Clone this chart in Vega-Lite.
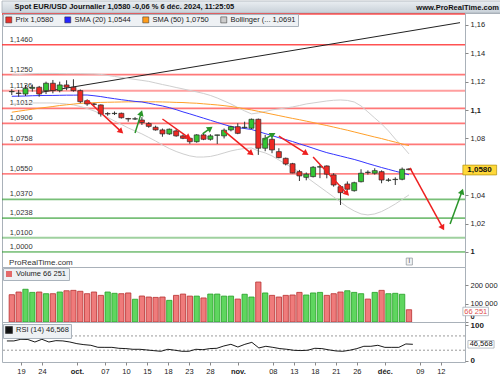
{
"$schema": "https://vega.github.io/schema/vega-lite/v6.json",
"padding": 0,
"autosize": {"type": "pad"},
"background": "#ffffff",
"spacing": 0,
"bounds": "flush",
"title": {"text": "www.ProRealTime.com", "anchor": "end", "frame": "bounds", "orient": "top", "offset": -11, "fontSize": 7.5, "fontWeight": "bold", "color": "#111111", "dx": -4},
"config": {
  "font": "Liberation Sans",
  "locale": {"number": {"decimal": ",", "thousands": " ", "grouping": [3], "currency": ["", " €"]}},
  "view": {"stroke": "#a9b1b9", "strokeWidth": 1},
  "axis": {"labelFont": "Liberation Sans", "labelFontSize": 7.5, "labelColor": "#222222", "tickColor": "#888888", "tickSize": 3, "domain": false, "grid": false, "labelPadding": 2, "labelOverlap": false, "tickCount": 100},
  "legend": {"labelFont": "Liberation Sans", "labelFontSize": 7.5, "labelColor": "#222222"},
  "title": {"font": "Liberation Sans"}
},
"resolve": {"scale": {"x": "independent", "y": "independent", "color": "independent", "fill": "independent", "stroke": "independent"}, "legend": {"color": "independent", "fill": "independent"}},
"datasets": {
"bougies": [
{"t":0,"date":"2024-09-17","ouverture":1.1129,"plus_haut":1.1147,"plus_bas":1.1106,"cloture":1.1131,"sens":"hausse"},
{"t":1,"date":"2024-09-18","ouverture":1.1120,"plus_haut":1.1142,"plus_bas":1.1094,"cloture":1.1117,"sens":"baisse"},
{"t":2,"date":"2024-09-19","ouverture":1.1113,"plus_haut":1.1177,"plus_bas":1.1099,"cloture":1.1153,"sens":"hausse"},
{"t":3,"date":"2024-09-20","ouverture":1.1153,"plus_haut":1.1180,"plus_bas":1.1130,"cloture":1.1160,"sens":"hausse"},
{"t":4,"date":"2024-09-23","ouverture":1.1161,"plus_haut":1.1170,"plus_bas":1.1094,"cloture":1.1113,"sens":"baisse"},
{"t":5,"date":"2024-09-24","ouverture":1.1137,"plus_haut":1.1200,"plus_bas":1.1113,"cloture":1.1189,"sens":"hausse"},
{"t":6,"date":"2024-09-25","ouverture":1.1189,"plus_haut":1.1212,"plus_bas":1.1118,"cloture":1.1137,"sens":"baisse"},
{"t":7,"date":"2024-09-26","ouverture":1.1137,"plus_haut":1.1200,"plus_bas":1.1125,"cloture":1.1177,"sens":"hausse"},
{"t":8,"date":"2024-09-27","ouverture":1.1177,"plus_haut":1.1210,"plus_bas":1.1140,"cloture":1.1161,"sens":"baisse"},
{"t":9,"date":"2024-09-30","ouverture":1.1161,"plus_haut":1.1217,"plus_bas":1.1130,"cloture":1.1137,"sens":"baisse"},
{"t":10,"date":"2024-10-01","ouverture":1.1137,"plus_haut":1.1145,"plus_bas":1.1048,"cloture":1.1059,"sens":"baisse"},
{"t":11,"date":"2024-10-02","ouverture":1.1066,"plus_haut":1.1075,"plus_bas":1.1030,"cloture":1.1043,"sens":"baisse"},
{"t":12,"date":"2024-10-03","ouverture":1.1043,"plus_haut":1.1050,"plus_bas":1.1030,"cloture":1.1040,"sens":"baisse"},
{"t":13,"date":"2024-10-04","ouverture":1.1036,"plus_haut":1.1040,"plus_bas":1.0954,"cloture":1.0973,"sens":"baisse"},
{"t":14,"date":"2024-10-07","ouverture":1.0975,"plus_haut":1.0985,"plus_bas":1.0960,"cloture":1.0973,"sens":"baisse"},
{"t":15,"date":"2024-10-08","ouverture":1.0975,"plus_haut":1.0990,"plus_bas":1.0965,"cloture":1.0977,"sens":"hausse"},
{"t":16,"date":"2024-10-09","ouverture":1.0977,"plus_haut":1.0982,"plus_bas":1.0940,"cloture":1.0946,"sens":"baisse"},
{"t":17,"date":"2024-10-10","ouverture":1.0940,"plus_haut":1.0945,"plus_bas":1.0918,"cloture":1.0937,"sens":"baisse"},
{"t":18,"date":"2024-10-11","ouverture":1.0937,"plus_haut":1.0950,"plus_bas":1.0930,"cloture":1.0938,"sens":"hausse"},
{"t":19,"date":"2024-10-14","ouverture":1.0930,"plus_haut":1.0950,"plus_bas":1.0895,"cloture":1.0912,"sens":"baisse"},
{"t":20,"date":"2024-10-15","ouverture":1.0905,"plus_haut":1.0915,"plus_bas":1.0875,"cloture":1.0885,"sens":"baisse"},
{"t":21,"date":"2024-10-16","ouverture":1.0879,"plus_haut":1.0890,"plus_bas":1.0855,"cloture":1.0860,"sens":"baisse"},
{"t":22,"date":"2024-10-17","ouverture":1.0860,"plus_haut":1.0870,"plus_bas":1.0812,"cloture":1.0832,"sens":"baisse"},
{"t":23,"date":"2024-10-18","ouverture":1.0832,"plus_haut":1.0870,"plus_bas":1.0825,"cloture":1.0865,"sens":"hausse"},
{"t":24,"date":"2024-10-21","ouverture":1.0853,"plus_haut":1.0865,"plus_bas":1.0812,"cloture":1.0818,"sens":"baisse"},
{"t":25,"date":"2024-10-22","ouverture":1.0818,"plus_haut":1.0828,"plus_bas":1.0795,"cloture":1.0801,"sens":"baisse"},
{"t":26,"date":"2024-10-23","ouverture":1.0801,"plus_haut":1.0805,"plus_bas":1.0762,"cloture":1.0777,"sens":"baisse"},
{"t":27,"date":"2024-10-24","ouverture":1.0777,"plus_haut":1.0830,"plus_bas":1.0770,"cloture":1.0825,"sens":"hausse"},
{"t":28,"date":"2024-10-25","ouverture":1.0825,"plus_haut":1.0840,"plus_bas":1.0788,"cloture":1.0794,"sens":"baisse"},
{"t":29,"date":"2024-10-28","ouverture":1.0794,"plus_haut":1.0830,"plus_bas":1.0785,"cloture":1.0818,"sens":"hausse"},
{"t":30,"date":"2024-10-29","ouverture":1.0822,"plus_haut":1.0826,"plus_bas":1.0761,"cloture":1.0825,"sens":"hausse"},
{"t":31,"date":"2024-10-30","ouverture":1.0818,"plus_haut":1.0870,"plus_bas":1.0800,"cloture":1.0858,"sens":"hausse"},
{"t":32,"date":"2024-10-31","ouverture":1.0860,"plus_haut":1.0890,"plus_bas":1.0850,"cloture":1.0883,"sens":"hausse"},
{"t":33,"date":"2024-11-01","ouverture":1.0883,"plus_haut":1.0907,"plus_bas":1.0830,"cloture":1.0836,"sens":"baisse"},
{"t":34,"date":"2024-11-04","ouverture":1.0876,"plus_haut":1.0918,"plus_bas":1.0870,"cloture":1.0879,"sens":"hausse"},
{"t":35,"date":"2024-11-05","ouverture":1.0872,"plus_haut":1.0940,"plus_bas":1.0865,"cloture":1.0935,"sens":"hausse"},
{"t":36,"date":"2024-11-06","ouverture":1.0935,"plus_haut":1.0940,"plus_bas":1.0684,"cloture":1.0731,"sens":"baisse"},
{"t":37,"date":"2024-11-07","ouverture":1.0731,"plus_haut":1.0825,"plus_bas":1.0710,"cloture":1.0801,"sens":"hausse"},
{"t":38,"date":"2024-11-08","ouverture":1.0794,"plus_haut":1.0805,"plus_bas":1.0696,"cloture":1.0719,"sens":"baisse"},
{"t":39,"date":"2024-11-11","ouverture":1.0707,"plus_haut":1.0731,"plus_bas":1.0660,"cloture":1.0665,"sens":"baisse"},
{"t":40,"date":"2024-11-12","ouverture":1.0660,"plus_haut":1.0665,"plus_bas":1.0610,"cloture":1.0620,"sens":"baisse"},
{"t":41,"date":"2024-11-13","ouverture":1.0622,"plus_haut":1.0628,"plus_bas":1.0555,"cloture":1.0557,"sens":"baisse"},
{"t":42,"date":"2024-11-14","ouverture":1.0566,"plus_haut":1.0578,"plus_bas":1.0500,"cloture":1.0536,"sens":"baisse"},
{"t":43,"date":"2024-11-15","ouverture":1.0526,"plus_haut":1.0560,"plus_bas":1.0505,"cloture":1.0548,"sens":"hausse"},
{"t":44,"date":"2024-11-18","ouverture":1.0531,"plus_haut":1.0605,"plus_bas":1.0525,"cloture":1.0597,"sens":"hausse"},
{"t":45,"date":"2024-11-19","ouverture":1.0598,"plus_haut":1.0613,"plus_bas":1.0520,"cloture":1.0601,"sens":"hausse"},
{"t":46,"date":"2024-11-20","ouverture":1.0606,"plus_haut":1.0610,"plus_bas":1.0519,"cloture":1.0548,"sens":"baisse"},
{"t":47,"date":"2024-11-21","ouverture":1.0543,"plus_haut":1.0555,"plus_bas":1.0460,"cloture":1.0472,"sens":"baisse"},
{"t":48,"date":"2024-11-22","ouverture":1.0460,"plus_haut":1.0470,"plus_bas":1.0331,"cloture":1.0418,"sens":"baisse"},
{"t":49,"date":"2024-11-25","ouverture":1.0479,"plus_haut":1.0497,"plus_bas":1.0435,"cloture":1.0442,"sens":"baisse"},
{"t":50,"date":"2024-11-26","ouverture":1.0432,"plus_haut":1.0495,"plus_bas":1.0425,"cloture":1.0488,"sens":"hausse"},
{"t":51,"date":"2024-11-27","ouverture":1.0495,"plus_haut":1.0583,"plus_bas":1.0490,"cloture":1.0555,"sens":"hausse"},
{"t":52,"date":"2024-11-28","ouverture":1.0560,"plus_haut":1.0575,"plus_bas":1.0545,"cloture":1.0562,"sens":"hausse"},
{"t":53,"date":"2024-11-29","ouverture":1.0555,"plus_haut":1.0590,"plus_bas":1.0545,"cloture":1.0573,"sens":"hausse"},
{"t":54,"date":"2024-12-02","ouverture":1.0566,"plus_haut":1.0575,"plus_bas":1.0484,"cloture":1.0507,"sens":"baisse"},
{"t":55,"date":"2024-12-03","ouverture":1.0505,"plus_haut":1.0520,"plus_bas":1.0495,"cloture":1.0507,"sens":"hausse"},
{"t":56,"date":"2024-12-04","ouverture":1.0510,"plus_haut":1.0526,"plus_bas":1.0472,"cloture":1.0512,"sens":"hausse"},
{"t":57,"date":"2024-12-05","ouverture":1.0512,"plus_haut":1.0595,"plus_bas":1.0505,"cloture":1.0583,"sens":"hausse"},
{"t":58,"date":"2024-12-06","ouverture":1.0585,"plus_haut":1.0590,"plus_bas":1.0575,"cloture":1.0580,"sens":"baisse"}
],
"moyennes": [
{"t":0,"sma20":1.1097,"sma50":1.0985,"bb_haute":1.1247,"bb_basse":1.1043},
{"t":1,"sma20":1.1098,"sma50":1.0992,"bb_haute":1.1250,"bb_basse":1.1043},
{"t":2,"sma20":1.1099,"sma50":1.0999,"bb_haute":1.1254,"bb_basse":1.1047},
{"t":3,"sma20":1.1101,"sma50":1.1006,"bb_haute":1.1256,"bb_basse":1.1050},
{"t":4,"sma20":1.1102,"sma50":1.1013,"bb_haute":1.1258,"bb_basse":1.1050},
{"t":5,"sma20":1.1103,"sma50":1.1019,"bb_haute":1.1258,"bb_basse":1.1050},
{"t":6,"sma20":1.1103,"sma50":1.1025,"bb_haute":1.1258,"bb_basse":1.1050},
{"t":7,"sma20":1.1104,"sma50":1.1032,"bb_haute":1.1257,"bb_basse":1.1047},
{"t":8,"sma20":1.1105,"sma50":1.1037,"bb_haute":1.1256,"bb_basse":1.1043},
{"t":9,"sma20":1.1105,"sma50":1.1042,"bb_haute":1.1256,"bb_basse":1.1036},
{"t":10,"sma20":1.1106,"sma50":1.1047,"bb_haute":1.1256,"bb_basse":1.1025},
{"t":11,"sma20":1.1106,"sma50":1.1050,"bb_haute":1.1255,"bb_basse":1.1011},
{"t":12,"sma20":1.1101,"sma50":1.1052,"bb_haute":1.1254,"bb_basse":1.0994},
{"t":13,"sma20":1.1095,"sma50":1.1054,"bb_haute":1.1251,"bb_basse":1.0973},
{"t":14,"sma20":1.1087,"sma50":1.1055,"bb_haute":1.1244,"bb_basse":1.0948},
{"t":15,"sma20":1.1080,"sma50":1.1056,"bb_haute":1.1237,"bb_basse":1.0923},
{"t":16,"sma20":1.1073,"sma50":1.1057,"bb_haute":1.1230,"bb_basse":1.0899},
{"t":17,"sma20":1.1067,"sma50":1.1058,"bb_haute":1.1223,"bb_basse":1.0874},
{"t":18,"sma20":1.1061,"sma50":1.1058,"bb_haute":1.1216,"bb_basse":1.0853},
{"t":19,"sma20":1.1057,"sma50":1.1059,"bb_haute":1.1209,"bb_basse":1.0832},
{"t":20,"sma20":1.1048,"sma50":1.1058,"bb_haute":1.1202,"bb_basse":1.0807},
{"t":21,"sma20":1.1038,"sma50":1.1058,"bb_haute":1.1191,"bb_basse":1.0782},
{"t":22,"sma20":1.1029,"sma50":1.1057,"bb_haute":1.1180,"bb_basse":1.0754},
{"t":23,"sma20":1.1017,"sma50":1.1056,"bb_haute":1.1170,"bb_basse":1.0729},
{"t":24,"sma20":1.1003,"sma50":1.1054,"bb_haute":1.1159,"bb_basse":1.0708},
{"t":25,"sma20":1.0987,"sma50":1.1053,"bb_haute":1.1149,"bb_basse":1.0691},
{"t":26,"sma20":1.0973,"sma50":1.1050,"bb_haute":1.1138,"bb_basse":1.0677},
{"t":27,"sma20":1.0958,"sma50":1.1048,"bb_haute":1.1128,"bb_basse":1.0669},
{"t":28,"sma20":1.0943,"sma50":1.1044,"bb_haute":1.1117,"bb_basse":1.0669},
{"t":29,"sma20":1.0928,"sma50":1.1040,"bb_haute":1.1103,"bb_basse":1.0673},
{"t":30,"sma20":1.0913,"sma50":1.1036,"bb_haute":1.1085,"bb_basse":1.0684},
{"t":31,"sma20":1.0898,"sma50":1.1031,"bb_haute":1.1064,"bb_basse":1.0698},
{"t":32,"sma20":1.0884,"sma50":1.1025,"bb_haute":1.1043,"bb_basse":1.0712},
{"t":33,"sma20":1.0876,"sma50":1.1017,"bb_haute":1.1018,"bb_basse":1.0722},
{"t":34,"sma20":1.0870,"sma50":1.1009,"bb_haute":1.0994,"bb_basse":1.0729},
{"t":35,"sma20":1.0863,"sma50":1.1001,"bb_haute":1.0973,"bb_basse":1.0733},
{"t":36,"sma20":1.0849,"sma50":1.0991,"bb_haute":1.0980,"bb_basse":1.0712},
{"t":37,"sma20":1.0834,"sma50":1.0981,"bb_haute":1.0990,"bb_basse":1.0698},
{"t":38,"sma20":1.0820,"sma50":1.0971,"bb_haute":1.1001,"bb_basse":1.0677},
{"t":39,"sma20":1.0805,"sma50":1.0961,"bb_haute":1.1008,"bb_basse":1.0648},
{"t":40,"sma20":1.0792,"sma50":1.0951,"bb_haute":1.1015,"bb_basse":1.0620},
{"t":41,"sma20":1.0778,"sma50":1.0941,"bb_haute":1.1022,"bb_basse":1.0592},
{"t":42,"sma20":1.0762,"sma50":1.0932,"bb_haute":1.1032,"bb_basse":1.0564},
{"t":43,"sma20":1.0747,"sma50":1.0922,"bb_haute":1.1043,"bb_basse":1.0529},
{"t":44,"sma20":1.0731,"sma50":1.0912,"bb_haute":1.1050,"bb_basse":1.0493},
{"t":45,"sma20":1.0715,"sma50":1.0901,"bb_haute":1.1057,"bb_basse":1.0458},
{"t":46,"sma20":1.0700,"sma50":1.0891,"bb_haute":1.1064,"bb_basse":1.0423},
{"t":47,"sma20":1.0688,"sma50":1.0880,"bb_haute":1.1069,"bb_basse":1.0388},
{"t":48,"sma20":1.0676,"sma50":1.0869,"bb_haute":1.1071,"bb_basse":1.0352},
{"t":49,"sma20":1.0664,"sma50":1.0858,"bb_haute":1.1068,"bb_basse":1.0317},
{"t":50,"sma20":1.0652,"sma50":1.0846,"bb_haute":1.1057,"bb_basse":1.0289},
{"t":51,"sma20":1.0638,"sma50":1.0834,"bb_haute":1.1029,"bb_basse":1.0268},
{"t":52,"sma20":1.0623,"sma50":1.0822,"bb_haute":1.0987,"bb_basse":1.0261},
{"t":53,"sma20":1.0609,"sma50":1.0810,"bb_haute":1.0944,"bb_basse":1.0268},
{"t":54,"sma20":1.0595,"sma50":1.0799,"bb_haute":1.0902,"bb_basse":1.0285},
{"t":55,"sma20":1.0582,"sma50":1.0786,"bb_haute":1.0853,"bb_basse":1.0310},
{"t":56,"sma20":1.0569,"sma50":1.0774,"bb_haute":1.0796,"bb_basse":1.0338},
{"t":57,"sma20":1.0557,"sma50":1.0761,"bb_haute":1.0747,"bb_basse":1.0370},
{"t":58,"sma20":1.0544,"sma50":1.0750,"bb_haute":1.0691,"bb_basse":1.0402}
],
"volumes": [
{"t":0,"volume":147600,"sens":"baisse"},{"t":1,"volume":162000,"sens":"baisse"},{"t":2,"volume":177000,"sens":"hausse"},{"t":3,"volume":160000,"sens":"hausse"},
{"t":4,"volume":162000,"sens":"baisse"},{"t":5,"volume":153000,"sens":"hausse"},{"t":6,"volume":153000,"sens":"baisse"},{"t":7,"volume":162000,"sens":"hausse"},
{"t":8,"volume":169000,"sens":"baisse"},{"t":9,"volume":171000,"sens":"baisse"},{"t":10,"volume":166000,"sens":"baisse"},{"t":11,"volume":153000,"sens":"baisse"},
{"t":12,"volume":162000,"sens":"baisse"},{"t":13,"volume":144000,"sens":"baisse"},{"t":14,"volume":162000,"sens":"hausse"},{"t":15,"volume":155000,"sens":"hausse"},
{"t":16,"volume":153000,"sens":"baisse"},{"t":17,"volume":157000,"sens":"baisse"},{"t":18,"volume":123000,"sens":"hausse"},{"t":19,"volume":140500,"sens":"baisse"},
{"t":20,"volume":135000,"sens":"baisse"},{"t":21,"volume":133000,"sens":"baisse"},{"t":22,"volume":135000,"sens":"baisse"},{"t":23,"volume":117000,"sens":"hausse"},
{"t":24,"volume":144000,"sens":"baisse"},{"t":25,"volume":151000,"sens":"baisse"},{"t":26,"volume":140000,"sens":"baisse"},{"t":27,"volume":140000,"sens":"hausse"},
{"t":28,"volume":130000,"sens":"baisse"},{"t":29,"volume":151000,"sens":"hausse"},{"t":30,"volume":151000,"sens":"hausse"},{"t":31,"volume":140000,"sens":"hausse"},
{"t":32,"volume":140000,"sens":"hausse"},{"t":33,"volume":124000,"sens":"baisse"},{"t":34,"volume":150000,"sens":"hausse"},{"t":35,"volume":135000,"sens":"hausse"},
{"t":36,"volume":216000,"sens":"baisse"},{"t":37,"volume":157000,"sens":"hausse"},{"t":38,"volume":144000,"sens":"baisse"},{"t":39,"volume":135000,"sens":"baisse"},
{"t":40,"volume":144000,"sens":"baisse"},{"t":41,"volume":146000,"sens":"baisse"},{"t":42,"volume":160000,"sens":"baisse"},{"t":43,"volume":146000,"sens":"hausse"},
{"t":44,"volume":157000,"sens":"hausse"},{"t":45,"volume":160000,"sens":"hausse"},{"t":46,"volume":144000,"sens":"baisse"},{"t":47,"volume":153000,"sens":"baisse"},
{"t":48,"volume":162000,"sens":"baisse"},{"t":49,"volume":169000,"sens":"hausse"},{"t":50,"volume":160000,"sens":"hausse"},{"t":51,"volume":153000,"sens":"hausse"},
{"t":52,"volume":124000,"sens":"baisse"},{"t":53,"volume":160000,"sens":"hausse"},{"t":54,"volume":171000,"sens":"baisse"},{"t":55,"volume":153000,"sens":"hausse"},
{"t":56,"volume":155000,"sens":"hausse"},{"t":57,"volume":150000,"sens":"hausse"},{"t":58,"volume":66251,"sens":"baisse"}
],
"rsi": [
{"t":0,"rsi":55.9},{"t":1,"rsi":56},{"t":2,"rsi":60.6},{"t":3,"rsi":60},{"t":4,"rsi":53},{"t":5,"rsi":60.6},{"t":6,"rsi":53},{"t":7,"rsi":56.8},
{"t":8,"rsi":56},{"t":9,"rsi":53},{"t":10,"rsi":48.4},{"t":11,"rsi":45.6},{"t":12,"rsi":43.8},{"t":13,"rsi":38.2},{"t":14,"rsi":38},{"t":15,"rsi":38},
{"t":16,"rsi":35.4},{"t":17,"rsi":34.5},{"t":18,"rsi":32.6},{"t":19,"rsi":32.6},{"t":20,"rsi":30.7},{"t":21,"rsi":28.8},{"t":22,"rsi":27},{"t":23,"rsi":32.6},
{"t":24,"rsi":30},{"t":25,"rsi":27},{"t":26,"rsi":27},{"t":27,"rsi":32.6},{"t":28,"rsi":31.5},{"t":29,"rsi":34.5},{"t":30,"rsi":35.4},{"t":31,"rsi":41.9},
{"t":32,"rsi":46.5},{"t":33,"rsi":39},{"t":34,"rsi":46.5},{"t":35,"rsi":52},{"t":36,"rsi":36.3},{"t":37,"rsi":41},{"t":38,"rsi":38},{"t":39,"rsi":34.5},
{"t":40,"rsi":32.6},{"t":41,"rsi":29.8},{"t":42,"rsi":29},{"t":43,"rsi":30},{"t":44,"rsi":35.4},{"t":45,"rsi":34.5},{"t":46,"rsi":31},{"t":47,"rsi":28},
{"t":48,"rsi":27},{"t":49,"rsi":30},{"t":50,"rsi":34.5},{"t":51,"rsi":41},{"t":52,"rsi":41},{"t":53,"rsi":43.8},{"t":54,"rsi":38},{"t":55,"rsi":38},
{"t":56,"rsi":38},{"t":57,"rsi":47.5},{"t":58,"rsi":46.568}
],
"niveaux": [
{"niveau":1.1677,"cote":"résistance","force":3},
{"niveau":1.1460,"cote":"résistance","force":3},
{"niveau":1.1250,"cote":"résistance","force":2},
{"niveau":1.1136,"cote":"résistance","force":1},
{"niveau":1.1012,"cote":"résistance","force":2},
{"niveau":1.0906,"cote":"résistance","force":2},
{"niveau":1.0758,"cote":"résistance","force":2},
{"niveau":1.0550,"cote":"résistance","force":4},
{"niveau":1.0370,"cote":"support","force":2},
{"niveau":1.0238,"cote":"support","force":2},
{"niveau":1.0100,"cote":"support","force":1},
{"niveau":1.0000,"cote":"support","force":4}
],
"fleches": [
{"t1":11.0,"p1":1.1071,"t2":15.86,"p2":1.0853,"sens":"baisse","angle":133},
{"t1":18.0,"p1":1.0839,"t2":18.86,"p2":1.0973,"sens":"hausse","angle":17},
{"t1":22.0,"p1":1.0937,"t2":25.71,"p2":1.0810,"sens":"baisse","angle":125},
{"t1":27.86,"p1":1.0832,"t2":28.86,"p2":1.0867,"sens":"hausse","angle":54},
{"t1":31.0,"p1":1.0853,"t2":34.86,"p2":1.0698,"sens":"baisse","angle":129},
{"t1":36.71,"p1":1.0789,"t2":38.0,"p2":1.0825,"sens":"hausse","angle":61},
{"t1":39.0,"p1":1.0817,"t2":42.86,"p2":1.0698,"sens":"baisse","angle":122},
{"t1":44.0,"p1":1.0669,"t2":48.86,"p2":1.0416,"sens":"baisse","angle":137},
{"t1":58.14,"p1":1.0592,"t2":62.86,"p2":1.0176,"sens":"baisse","angle":151},
{"t1":64.0,"p1":1.0197,"t2":65.7,"p2":1.0420,"sens":"hausse","angle":19}
],
"tendance": [{"t1":4,"p1":1.1123,"t2":65.45,"p2":1.1616}]
},
"vconcat": [
{
  "width": 500, "height": 12,
  "data": {"values": [{"bandeau": "en-tête", "debut": 0, "fin": 1}]},
  "mark": {"type": "rect", "fill": {"gradient": "linear", "x1": 0, "y1": 0, "x2": 0, "y2": 1, "stops": [{"offset": 0, "color": "#eaeef2"}, {"offset": 1, "color": "#c8d0d8"}]}, "stroke": "#a9b1b9", "strokeWidth": 0.8},
  "encoding": {
    "x": {"field": "debut", "type": "quantitative", "scale": {"domain": [0, 1], "nice": false}, "axis": null},
    "x2": {"field": "fin"},
    "y": {"field": "debut", "type": "quantitative", "scale": {"domain": [0, 1], "nice": false}, "axis": null},
    "y2": {"field": "fin"}
  },
  "title": {"text": "Spot EUR/USD Journalier 1,0580 -0,06 % 6 déc. 2024, 11:25:05", "orient": "bottom", "anchor": "start", "offset": -10, "fontSize": 7.5, "fontWeight": "bold", "color": "#111111", "dx": 13}
},
{
  "width": 463, "height": 254,
  "layer": [
    {"data": {"name": "niveaux"}, "mark": {"type": "rule"},
     "encoding": {
       "y": {"field": "niveau", "type": "quantitative", "scale": {"domain": [0.9894, 1.1684], "nice": false, "zero": false},
             "axis": {"orient": "right", "title": null, "values": [1, 1.02, 1.04, 1.08, 1.1, 1.12, 1.14, 1.16], "tickCount": 100, "format": ".2~f", "labelOverlap": false,
                      "labelFontWeight": {"condition": {"test": "datum.value == 1 || datum.value == 1.1", "value": "bold"}, "value": "normal"}}},
       "stroke": {"field": "cote", "type": "nominal", "scale": {"domain": ["résistance", "support", "baisse", "hausse"], "range": ["#ff2b2b", "#2b9a2b", "#ee2020", "#2a952a"]}, "legend": null},
       "strokeWidth": {"field": "force", "type": "ordinal", "scale": {"domain": [1, 2, 3, 4], "range": [2, 1, 2, 3]}, "legend": null},
       "strokeOpacity": {"field": "force", "type": "ordinal", "scale": {"domain": [1, 2, 3, 4], "range": [0.45, 1, 1, 1]}, "legend": null}
     }},
    {"data": {"name": "niveaux"}, "transform": [{"filter": "datum.niveau < 1.16"}],
     "mark": {"type": "text", "align": "left", "baseline": "bottom", "dy": -1, "fontSize": 7.5, "color": "#333333"},
     "encoding": {
       "x": {"datum": -0.3, "type": "quantitative", "scale": {"domain": [-0.7, 65.45], "nice": false, "zero": false}, "axis": null},
       "y": {"field": "niveau", "type": "quantitative"},
       "text": {"field": "niveau", "type": "quantitative", "format": ".4f"}
     }},
    {"data": {"name": "tendance"}, "mark": {"type": "rule", "color": "#222222", "strokeWidth": 1, "clip": true},
     "encoding": {"x": {"field": "t1", "type": "quantitative"}, "x2": {"field": "t2"}, "y": {"field": "p1", "type": "quantitative"}, "y2": {"field": "p2"}}},
    {"data": {"name": "moyennes"}, "mark": {"type": "line", "color": "#cfcfcf", "strokeWidth": 1},
     "encoding": {"x": {"field": "t", "type": "quantitative"}, "y": {"field": "bb_haute", "type": "quantitative"}}},
    {"data": {"name": "moyennes"}, "mark": {"type": "line", "color": "#cfcfcf", "strokeWidth": 1},
     "encoding": {"x": {"field": "t", "type": "quantitative"}, "y": {"field": "bb_basse", "type": "quantitative"}}},
    {"data": {"name": "moyennes"}, "mark": {"type": "line", "color": "#ffa02a", "strokeWidth": 1},
     "encoding": {"x": {"field": "t", "type": "quantitative"}, "y": {"field": "sma50", "type": "quantitative"}}},
    {"data": {"name": "moyennes"}, "mark": {"type": "line", "color": "#3535ff", "strokeWidth": 1},
     "encoding": {"x": {"field": "t", "type": "quantitative"}, "y": {"field": "sma20", "type": "quantitative"}}},
    {"data": {"name": "bougies"}, "mark": {"type": "rule", "color": "#333333", "strokeWidth": 1},
     "encoding": {"x": {"field": "t", "type": "quantitative"}, "y": {"field": "plus_bas", "type": "quantitative"}, "y2": {"field": "plus_haut"}}},
    {"data": {"name": "bougies"}, "mark": {"type": "bar", "width": 5, "stroke": "#2a2a2a", "strokeWidth": 0.7},
     "encoding": {"x": {"field": "t", "type": "quantitative"}, "y": {"field": "ouverture", "type": "quantitative"}, "y2": {"field": "cloture"},
       "color": {"field": "sens", "type": "nominal",
         "scale": {"domain": ["Prix 1,0580", "SMA (20) 1,0544", "SMA (50) 1,0750", "Bollinger (... 1,0691", "hausse", "baisse"], "range": ["#e8322c", "#2424ff", "#ff9c1a", "#cccccc", "#33c433", "#ee2a24"]},
         "legend": {"values": ["Prix 1,0580", "SMA (20) 1,0544", "SMA (50) 1,0750", "Bollinger (... 1,0691"], "orient": "none", "legendX": 1, "legendY": 1, "direction": "horizontal", "columns": 4, "title": null,
                    "symbolType": "square", "symbolSize": 36, "symbolStrokeWidth": 0.5, "fillColor": "#eef1f4", "strokeColor": "#aab3bc", "padding": 2, "columnPadding": 9, "labelOffset": 3}}}},
    {"data": {"name": "fleches"}, "mark": {"type": "rule", "strokeWidth": 1.5, "clip": true},
     "encoding": {"x": {"field": "t1", "type": "quantitative"}, "x2": {"field": "t2"}, "y": {"field": "p1", "type": "quantitative"}, "y2": {"field": "p2"},
       "stroke": {"field": "sens", "type": "nominal", "legend": null}}},
    {"data": {"name": "fleches"}, "mark": {"type": "point", "shape": "triangle", "filled": true, "size": 45, "opacity": 1, "clip": true},
     "encoding": {"x": {"field": "t2", "type": "quantitative"}, "y": {"field": "p2", "type": "quantitative"},
       "angle": {"field": "angle", "type": "quantitative", "scale": null},
       "fill": {"field": "sens", "type": "nominal", "scale": {"domain": ["baisse", "hausse"], "range": ["#ee2020", "#2a952a"]}, "legend": null}}},
    {"data": {"values": [{"texte": "ProRealTime.com"}]}, "mark": {"type": "text", "align": "left", "baseline": "middle", "fontSize": 8, "color": "#333333"},
     "encoding": {"x": {"datum": -0.4, "type": "quantitative"}, "y": {"datum": 0.9922, "type": "quantitative"}, "text": {"field": "texte"}}},
    {"data": {"values": [{"icone": "i"}]}, "mark": {"type": "rect", "fill": "#f2f3f5", "stroke": "#8c939a", "strokeWidth": 0.7},
     "encoding": {"x": {"datum": 57.6, "type": "quantitative"}, "x2": {"datum": 58.5}, "y": {"datum": 0.9908, "type": "quantitative"}, "y2": {"datum": 0.9957}}},
    {"data": {"values": [{"icone": "i"}]}, "mark": {"type": "text", "align": "center", "baseline": "middle", "fontSize": 7, "color": "#555555"},
     "encoding": {"x": {"datum": 58.05, "type": "quantitative"}, "y": {"datum": 0.9933, "type": "quantitative"}, "text": {"field": "icone"}}},
    {"data": {"values": [{"dernier": 1.058}]}, "mark": {"type": "rect", "fill": "#ffd83a", "stroke": "#b09010", "strokeWidth": 0.7, "clip": false},
     "encoding": {"x": {"datum": 65.87, "type": "quantitative"}, "x2": {"datum": 70.8}, "y": {"datum": 1.0543, "type": "quantitative"}, "y2": {"datum": 1.0612}}},
    {"data": {"values": [{"dernier": 1.058}]}, "mark": {"type": "text", "align": "center", "baseline": "middle", "fontSize": 8, "fontWeight": "bold", "color": "#111111", "clip": false},
     "encoding": {"x": {"datum": 68.3, "type": "quantitative"}, "y": {"field": "dernier", "type": "quantitative"}, "text": {"field": "dernier", "type": "quantitative", "format": ".4f"}}}
  ]
},
{
  "width": 463, "height": 55,
  "layer": [
    {"data": {"name": "volumes"}, "mark": {"type": "bar", "width": 5.3, "strokeWidth": 0.8},
     "encoding": {
       "x": {"field": "t", "type": "quantitative", "scale": {"domain": [-0.7, 65.45], "nice": false, "zero": false}, "axis": null},
       "y": {"field": "volume", "type": "quantitative", "scale": {"domain": [0, 297300], "nice": false, "zero": true},
             "axis": {"orient": "right", "title": null, "values": [0, 100000, 200000], "tickCount": 100, "format": ",d", "labelFlush": true, "labelFlushOffset": -2, "labelOverlap": false,
                      "labelFontWeight": {"condition": {"test": "datum.value == 0", "value": "bold"}, "value": "normal"}}},
       "fill": {"field": "sens", "type": "nominal", "scale": {"domain": ["Volume 66 251", "hausse", "baisse"], "range": ["#e46a6a", "#5fd65f", "#ef7b7b"]},
                "legend": {"values": ["Volume 66 251"], "orient": "none", "legendX": 1, "legendY": 1, "title": null, "symbolType": "square", "symbolSize": 36,
                           "fillColor": "#eef1f4", "strokeColor": "#aab3bc", "padding": 2, "labelOffset": 3}},
       "stroke": {"field": "sens", "type": "nominal", "scale": {"domain": ["hausse", "baisse"], "range": ["#24a024", "#b83030"]}, "legend": null}
     }},
    {"data": {"values": [{"dernier": 66251}]}, "mark": {"type": "rect", "fill": "#ffffff", "stroke": "#9aa3ad", "strokeWidth": 0.7, "clip": false},
     "encoding": {"x": {"datum": 65.87, "type": "quantitative"}, "x2": {"datum": 69.6}, "y": {"datum": 34000, "type": "quantitative"}, "y2": {"datum": 80000}}},
    {"data": {"values": [{"dernier": 66251}]}, "mark": {"type": "text", "align": "center", "baseline": "middle", "fontSize": 7.5, "color": "#e05050", "clip": false},
     "encoding": {"x": {"datum": 67.75, "type": "quantitative"}, "y": {"datum": 56000, "type": "quantitative"}, "text": {"field": "dernier", "type": "quantitative", "format": ",d"}}}
  ]
},
{
  "width": 463, "height": 40,
  "layer": [
    {"data": {"values": [{"niveau": 70}, {"niveau": 30}]}, "mark": {"type": "rule", "color": "#9a9a9a", "strokeDash": [2, 2], "strokeWidth": 1},
     "encoding": {"y": {"field": "niveau", "type": "quantitative", "scale": {"domain": [-3, 109], "nice": false, "zero": false},
       "axis": {"orient": "right", "title": null, "values": [0, 100], "tickCount": 100, "labelFlush": true, "labelFlushOffset": -1.5, "labelOverlap": false, "labelFontWeight": "bold", "labelFontSize": 8}}}},
    {"data": {"name": "rsi"}, "mark": {"type": "line", "strokeWidth": 1},
     "encoding": {
       "x": {"field": "t", "type": "quantitative", "scale": {"domain": [-0.7, 65.45], "nice": false, "zero": false},
             "axis": {"orient": "bottom", "title": null, "labelOverlap": false, "tickCount": 100, "values": [2, 5, 10, 14, 17, 20, 23, 26, 29, 33, 38, 41, 44, 47, 50, 54, 59, 62],
                      "labelExpr": "['19','24','oct.','07','10','15','18','23','28','nov.','08','13','18','21','26','déc.','09','12'][indexof([2,5,10,14,17,20,23,26,29,33,38,41,44,47,50,54,59,62], datum.value)]",
                      "labelFontWeight": {"condition": {"test": "datum.value == 10 || datum.value == 33 || datum.value == 54", "value": "bold"}, "value": "normal"}}},
       "y": {"field": "rsi", "type": "quantitative"},
       "color": {"datum": "RSI (14) 46,568", "type": "nominal", "scale": {"range": ["#1a1a1a"]},
                 "legend": {"orient": "none", "legendX": 1, "legendY": 2, "title": null, "symbolType": "square", "symbolSize": 36, "symbolFillColor": "#111111", "symbolStrokeColor": "#111111",
                            "fillColor": "#eef1f4", "strokeColor": "#aab3bc", "padding": 2, "labelOffset": 3}}
     }},
    {"data": {"values": [{"dernier": 46.568}]}, "mark": {"type": "rect", "fill": "#ffffff", "stroke": "#9aa3ad", "strokeWidth": 0.7, "clip": false},
     "encoding": {"x": {"datum": 65.87, "type": "quantitative"}, "x2": {"datum": 69.6}, "y": {"datum": 36, "type": "quantitative"}, "y2": {"datum": 57}}},
    {"data": {"values": [{"dernier": 46.568}]}, "mark": {"type": "text", "align": "center", "baseline": "middle", "fontSize": 7.5, "color": "#111111", "clip": false},
     "encoding": {"x": {"datum": 67.75, "type": "quantitative"}, "y": {"field": "dernier", "type": "quantitative"}, "text": {"field": "dernier", "type": "quantitative", "format": ".3f"}}}
  ]
}
]
}
